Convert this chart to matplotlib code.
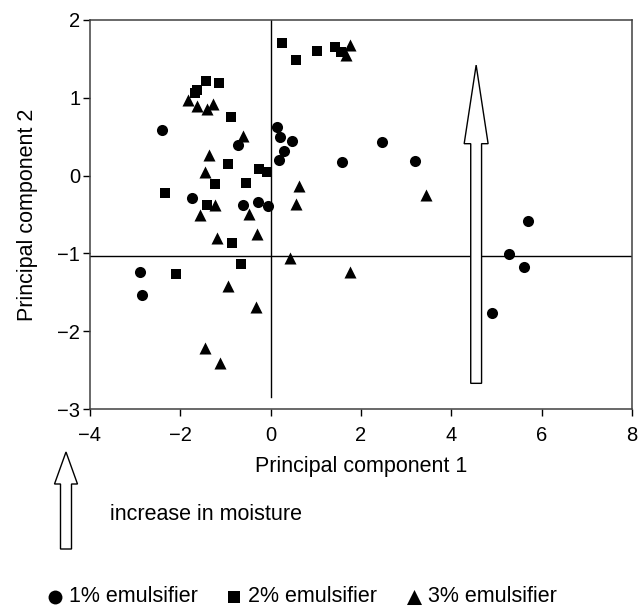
import matplotlib
matplotlib.use("Agg")
import matplotlib.pyplot as plt
from matplotlib.patches import FancyArrow

plt.rcParams["font.family"] = ["Liberation Sans", "DejaVu Sans"]

# 1% emulsifier (circles)
pc1_e1 = [-2.41, -0.72, -1.73, -0.61, -0.27, -0.05, -2.89, -2.85, 0.15, 0.21,
          0.48, 0.29, 0.18, 1.58, 2.46, 3.19, 5.69, 5.28, 5.60, 4.90]
pc2_e1 = [0.59, 0.39, -0.29, -0.38, -0.34, -0.39, -1.24, -1.53, 0.63, 0.50,
          0.45, 0.32, 0.20, 0.18, 0.43, 0.19, -0.58, -1.01, -1.17, -1.76]

# 2% emulsifier (squares)
pc1_e2 = [-1.43, -1.14, -1.64, -1.67, -0.88, -0.94, -0.26, -0.07, -1.23, -0.55,
          -2.34, -1.42, -0.86, -0.66, -2.10, 0.26, 0.57, 1.02, 1.42, 1.56]
pc2_e2 = [1.21, 1.19, 1.10, 1.06, 0.75, 0.15, 0.09, 0.04, -0.11, -0.10,
          -0.22, -0.38, -0.87, -1.14, -1.27, 1.70, 1.48, 1.60, 1.65, 1.59]

# 3% emulsifier (triangles)
pc1_e3 = [-1.83, -1.64, -1.42, -1.28, -0.62, -1.37, -1.45, -1.23, -1.56, -0.49,
          -1.19, -0.30, -0.94, -0.32, -1.45, -1.12, 0.63, 0.56, 3.45, 0.43,
          1.75, 1.75, 1.67]
pc2_e3 = [0.97, 0.90, 0.85, 0.92, 0.51, 0.26, 0.04, -0.38, -0.51, -0.49,
          -0.80, -0.75, -1.42, -1.69, -2.21, -2.41, -0.13, -0.36, -0.25, -1.06,
          -1.24, 1.68, 1.55]

labels = ["1% emulsifier", "2% emulsifier", "3% emulsifier"]

fig = plt.figure(figsize=(6.39, 6.11), dpi=100)
ax = fig.add_axes([0.1408, 0.3306, 0.8482, 0.6367])

h1 = ax.scatter(pc1_e1, pc2_e1, marker="o", s=64, color="black", linewidths=0, zorder=3)
h2 = ax.scatter(pc1_e2, pc2_e2, marker="s", s=52, color="black", linewidths=0, zorder=3)
h3 = ax.scatter(pc1_e3, pc2_e3, marker="^", s=75, color="black", linewidths=0, zorder=3)

# reference lines
ax.axhline(-1.03, color="black", lw=1, zorder=1)
ax.plot([0, 0], [-2.85, 2], color="black", lw=1, zorder=1)

# big hollow arrow inside the plot
ax.add_patch(FancyArrow(4.55, -2.67, 0, 4.09, width=0.24, head_width=0.53,
                        head_length=1.01, length_includes_head=True,
                        facecolor="white", edgecolor="black", lw=1, zorder=2))

ax.set_xlim(-4, 8)
ax.set_ylim(-3, 2)
ax.set_xticks(range(-4, 9, 2))
ax.set_yticks(range(-3, 3))
ax.tick_params(direction="out", length=5, width=1, labelsize=14.5, colors="black")
ax.tick_params(axis="x", pad=7)
ax.tick_params(axis="y", pad=2)
for sp in ax.spines.values():
    sp.set_color("#404040")
    sp.set_linewidth(1.1)
ax.set_xlabel("Principal component 1", fontsize=15.5, labelpad=8)
ax.set_ylabel("Principal component 2", fontsize=15.5, labelpad=14)

# small arrow + caption below the plot (inches from bottom-left)
fig.add_artist(FancyArrow(0.66, 0.62, 0, 0.97, width=0.11, head_width=0.23,
                          head_length=0.32, length_includes_head=True,
                          facecolor="white", edgecolor="black", lw=1,
                          transform=fig.dpi_scale_trans))
fig.text(110 / 639, 1 - 514 / 611, "increase in moisture", fontsize=15.5,
         ha="left", va="center")

fig.legend([h1, h2, h3], labels, loc="center", bbox_to_anchor=(0.47, 1 - 597 / 611),
           ncol=3, frameon=False, fontsize=15.5, handletextpad=0.15,
           columnspacing=1.2, handlelength=1.0, borderaxespad=0, markerscale=1.25)

fig.savefig("out.png", dpi=100)
